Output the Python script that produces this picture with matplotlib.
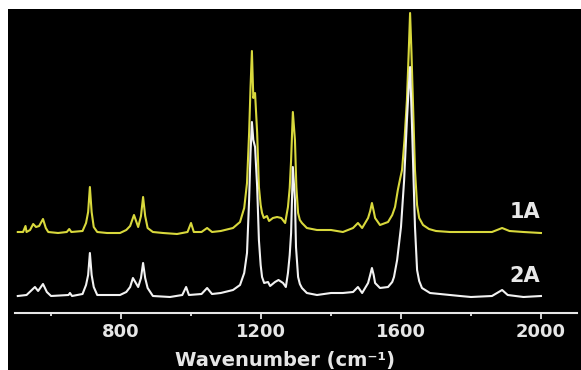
import matplotlib
matplotlib.use("Agg")
import matplotlib.pyplot as plt
from matplotlib.patches import Rectangle

# spectrum 1A (yellow), offset included
wn_1a = [505, 520, 527, 530, 540, 549, 557, 566, 577, 585, 592, 620, 645, 652, 658,
         690, 700, 706, 711, 716, 722, 732, 760, 797, 815, 826, 837, 849, 857, 863,
         869, 876, 891, 920, 960, 990, 1000, 1008, 1030, 1046, 1060, 1085, 1120, 1140,
         1152, 1160, 1166, 1170, 1174, 1178, 1183, 1189, 1194, 1199, 1203, 1208, 1217,
         1223, 1234, 1246, 1258, 1269, 1277, 1282, 1286, 1291, 1297, 1301, 1306, 1311,
         1317, 1331, 1360, 1400, 1434, 1463, 1477, 1489, 1506, 1512, 1517, 1522, 1526,
         1540, 1563, 1575, 1583, 1591, 1598, 1603, 1610, 1617, 1622, 1626, 1630, 1634,
         1640, 1646, 1652, 1663, 1680, 1700, 1740, 1800, 1860, 1889, 1910, 1950, 2000]
int_1a = [81, 81, 87, 81, 83, 89, 86, 87, 94, 85, 81, 80, 81, 84, 81,
          82, 90, 101, 126, 101, 86, 81, 80, 80, 83, 87, 98, 86, 97, 116,
          97, 85, 81, 80, 79, 81, 90, 81, 81, 85, 81, 82, 85, 91,
          105, 130, 180, 225, 262, 215, 220, 180, 126, 108, 100, 95, 97,
          92, 95, 96, 95, 90, 106, 125, 153, 201, 173, 126, 100, 93,
          90, 85, 83, 83, 81, 85, 90, 85, 95, 102, 110, 102, 95,
          88, 91, 98, 106, 123, 135, 143, 173, 213, 260, 300, 260, 213,
          143, 108, 95, 88, 84, 82, 81, 81, 81, 85, 82, 81, 80]

# spectrum 2A (white)
wn_2a = [505, 530, 554, 563, 577, 588, 600, 650, 654, 660, 690, 700, 706, 711, 716,
         722, 732, 797, 815, 826, 834, 849, 857, 863, 869, 876, 891, 940, 975, 986,
         994, 1030, 1046, 1060, 1085, 1120, 1140, 1152, 1160, 1166, 1170, 1174, 1178,
         1183, 1189, 1194, 1199, 1203, 1209, 1220, 1226, 1240, 1250, 1263, 1271, 1277,
         1282, 1286, 1291, 1297, 1300, 1306, 1311, 1317, 1331, 1360, 1400, 1434, 1463,
         1477, 1489, 1506, 1512, 1517, 1522, 1526, 1540, 1563, 1575, 1580, 1589, 1600,
         1609, 1617, 1622, 1626, 1631, 1636, 1640, 1646, 1652, 1660, 1683, 1740, 1769,
         1800, 1860, 1889, 1905, 1950, 2000]
int_2a = [17, 18, 26, 22, 29, 21, 17, 18, 20, 17, 19, 28, 38, 60, 38,
          26, 18, 18, 21, 26, 35, 26, 35, 50, 35, 25, 17, 16, 18, 26,
          18, 19, 25, 19, 20, 23, 28, 40, 60, 113, 160, 191, 173,
          166, 126, 73, 48, 36, 30, 31, 27, 31, 33, 30, 26, 40,
          58, 80, 146, 113, 66, 36, 29, 25, 20, 18, 20, 20, 21,
          26, 20, 30, 38, 45, 38, 30, 25, 26, 31, 36, 53, 86,
          133, 193, 225, 246, 193, 133, 86, 43, 32, 25, 20, 18, 17,
          16, 17, 23, 18, 16, 17]

labels = ["1A", "2A"]
label_y = [101, 37]
major_ticks = [800, 1200, 1600, 2000]
minor_ticks = [600, 1000, 1400, 1800]

W, H = 581, 370
fig = plt.figure(figsize=(W / 100, H / 100), dpi=100, facecolor="black")
# thin white margin along the top and left edges
fig.patches.append(Rectangle((0, (H - 9) / H), 1, 9 / H, transform=fig.transFigure,
                             facecolor="white", edgecolor="none"))
fig.patches.append(Rectangle((0, 0), 8 / W, 1, transform=fig.transFigure,
                             facecolor="white", edgecolor="none"))

ax = fig.add_axes([15 / W, (H - 313) / H, (577 - 15) / W, (313 - 9) / H])
ax.set_facecolor("black")

ax.plot(wn_1a, int_1a, color="#d8d83c", lw=1.5, solid_joinstyle="round")
ax.plot(wn_2a, int_2a, color="#f2f2f2", lw=1.5, solid_joinstyle="round")

for lab, ly in zip(labels, label_y):
    ax.text(1997, ly, lab, color="#e8e8e8", fontsize=15, fontweight="bold",
            ha="right", va="center")

ax.set_xlim(497, 2103)
ax.set_ylim(0, 304)

for s in ["top", "left", "right"]:
    ax.spines[s].set_visible(False)
ax.spines["bottom"].set_color("#e6e6e6")
ax.spines["bottom"].set_linewidth(1.5)

ax.set_yticks([])
ax.set_xticks(major_ticks)
ax.set_xticks(minor_ticks, minor=True)
ax.tick_params(axis="x", which="major", direction="out", length=4, width=1.3,
               colors="#e6e6e6", labelsize=13, pad=3)
ax.tick_params(axis="x", which="minor", direction="out", length=2, width=1.3,
               colors="#e6e6e6")
for t in ax.get_xticklabels():
    t.set_fontweight("bold")

ax.set_xlabel("Wavenumber (cm⁻¹)", color="#e6e6e6", fontsize=14,
              fontweight="bold", labelpad=2)
ax.xaxis.set_label_coords((285 - 15) / (577 - 15), -0.125)

fig.savefig("out.png", dpi=100, facecolor=fig.get_facecolor())
